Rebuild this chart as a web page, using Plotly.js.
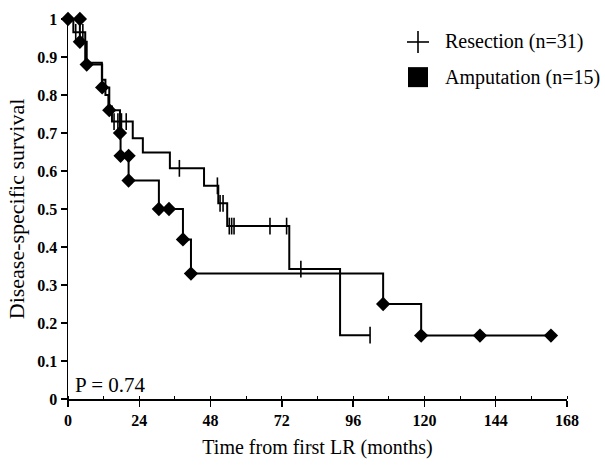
<!DOCTYPE html>
<html>
<head>
<meta charset="utf-8">
<script src="https://cdn.plot.ly/plotly-3.0.1.min.js"></script>
<style>html,body{margin:0;padding:0;background:#fff;}#chart{width:605px;height:466px;}</style>
</head>
<body>
<div id="chart"></div>
<script>
// Resection (n=31) step curve
var resT = [0, 1.8, 5.8, 11.4, 12.6, 13.6, 14.8, 21.8, 25.2, 34.3, 45.8, 50.6, 53.6, 74.5, 91.6, 101.7];
var resS = [1, 0.965, 0.885, 0.84, 0.80, 0.77, 0.73, 0.686, 0.649, 0.607, 0.561, 0.515, 0.455, 0.342, 0.168, 0.168];
// Resection censor ticks
var resCensT = [2.6, 5.0, 15.5, 16.8, 18.0, 19.6, 37.5, 50.3, 51.2, 52.2, 54.3, 55.1, 55.9, 68.0, 73.6, 78.4, 101.7];
var resCensS = [0.965, 0.965, 0.73, 0.73, 0.73, 0.73, 0.607, 0.561, 0.515, 0.515, 0.455, 0.455, 0.455, 0.455, 0.455, 0.342, 0.168];
// Amputation (n=15) step curve
var ampT = [0, 4.0, 6.3, 11.5, 13.9, 17.5, 17.7, 20.4, 30.6, 38.7, 41.4, 106.1, 118.9, 162.6];
var ampS = [1, 0.94, 0.88, 0.82, 0.76, 0.70, 0.64, 0.575, 0.50, 0.42, 0.33, 0.25, 0.167, 0.167];
// Amputation diamond markers
var ampMarkT = [0, 4.0, 4.0, 6.3, 11.5, 13.9, 17.5, 17.7, 20.4, 20.4, 30.6, 34.0, 38.7, 41.4, 106.1, 118.9, 138.7, 162.6];
var ampMarkS = [1, 1, 0.94, 0.88, 0.82, 0.76, 0.70, 0.64, 0.64, 0.575, 0.50, 0.50, 0.42, 0.33, 0.25, 0.167, 0.167, 0.167];
var xTicks = [0, 24, 48, 72, 96, 120, 144, 168];
var yTicks = [0, 0.1, 0.2, 0.3, 0.4, 0.5, 0.6, 0.7, 0.8, 0.9, 1];
var yTickText = ['0', '0.1', '0.2', '0.3', '0.4', '0.5', '0.6', '0.7', '0.8', '0.9', '1'];
var legendNames = ['Resection (n=31)', 'Amputation (n=15)'];
var pText = 'P = 0.74';

var serif = 'Liberation Serif, Times New Roman, serif';
var traces = [
  {x: resT, y: resS, mode: 'lines', line: {shape: 'hv', color: '#000', width: 2}, showlegend: false, cliponaxis: false, hoverinfo: 'skip'},
  {x: resCensT, y: resCensS, mode: 'markers', marker: {symbol: 'line-ns-open', size: 12, color: '#000', line: {width: 1.6, color: '#000'}}, showlegend: false, cliponaxis: false, hoverinfo: 'skip'},
  {x: ampT, y: ampS, mode: 'lines', line: {shape: 'hv', color: '#000', width: 2}, showlegend: false, cliponaxis: false, hoverinfo: 'skip'},
  {x: ampMarkT, y: ampMarkS, mode: 'markers', marker: {symbol: 'diamond', size: 11, color: '#000'}, showlegend: false, cliponaxis: false, hoverinfo: 'skip'}
];

// legend built from shapes + annotations (positions in plot-area fractions)
var legX = 0.7014, legTextX = 0.7515, legY = [0.9395, 0.847];
var shapes = [
  {type: 'line', xref: 'paper', yref: 'paper', xsizemode: 'pixel', ysizemode: 'pixel', xanchor: legX, yanchor: legY[0], x0: -11, x1: 11, y0: 0, y1: 0, line: {color: '#000', width: 1.6}},
  {type: 'line', xref: 'paper', yref: 'paper', xsizemode: 'pixel', ysizemode: 'pixel', xanchor: legX, yanchor: legY[0], x0: 0, x1: 0, y0: -11, y1: 11, line: {color: '#000', width: 1.6}},
  {type: 'rect', xref: 'paper', yref: 'paper', xsizemode: 'pixel', ysizemode: 'pixel', xanchor: legX, yanchor: legY[1], x0: -10, x1: 10, y0: -10, y1: 10, fillcolor: '#000', line: {width: 0}}
];

var layout = {
  width: 605, height: 466,
  margin: {l: 68, r: 38, t: 19, b: 67},
  paper_bgcolor: '#fff', plot_bgcolor: '#fff',
  font: {family: serif, color: '#000'},
  showlegend: false,
  xaxis: {
    range: [0, 168], tickmode: 'array', tickvals: xTicks, ticktext: xTicks.map(String),
    showgrid: false, zeroline: false, showline: true, linecolor: '#000', linewidth: 1.5,
    ticks: 'outside', ticklen: 6, tickwidth: 1.5, tickcolor: '#000',
    minor: {tickmode: 'linear', tick0: 0, dtick: 12, ticks: 'inside', ticklen: 3, tickwidth: 1, tickcolor: '#000', showgrid: false},
    tickfont: {family: serif, size: 16, color: '#000', weight: 'bold'},
    title: {text: 'Time from first LR (months)', font: {family: serif, size: 20, color: '#000'}, standoff: 12}
  },
  yaxis: {
    range: [0, 1], tickmode: 'array', tickvals: yTicks, ticktext: yTickText,
    showgrid: false, zeroline: false, showline: true, linecolor: '#000', linewidth: 1.5,
    ticks: 'outside', ticklen: 6, tickwidth: 1.5, tickcolor: '#000',
    tickfont: {family: serif, size: 16, color: '#000', weight: 'bold'},
    title: {text: 'Disease-specific survival', font: {family: serif, size: 22, color: '#000'}, standoff: 6}
  },
  shapes: shapes,
  annotations: [
    {xref: 'paper', yref: 'paper', x: 0.01, y: 0.0, xanchor: 'left', yanchor: 'bottom', text: pText, showarrow: false, font: {family: serif, size: 21, color: '#000'}},
    {xref: 'paper', yref: 'paper', x: legTextX, y: legY[0], xanchor: 'left', yanchor: 'middle', text: legendNames[0], showarrow: false, font: {family: serif, size: 20, color: '#000'}},
    {xref: 'paper', yref: 'paper', x: legTextX, y: legY[1], xanchor: 'left', yanchor: 'middle', text: legendNames[1], showarrow: false, font: {family: serif, size: 20, color: '#000'}}
  ]
};

Plotly.newPlot('chart', traces, layout, {displayModeBar: false, staticPlot: true});
</script>
</body>
</html>
